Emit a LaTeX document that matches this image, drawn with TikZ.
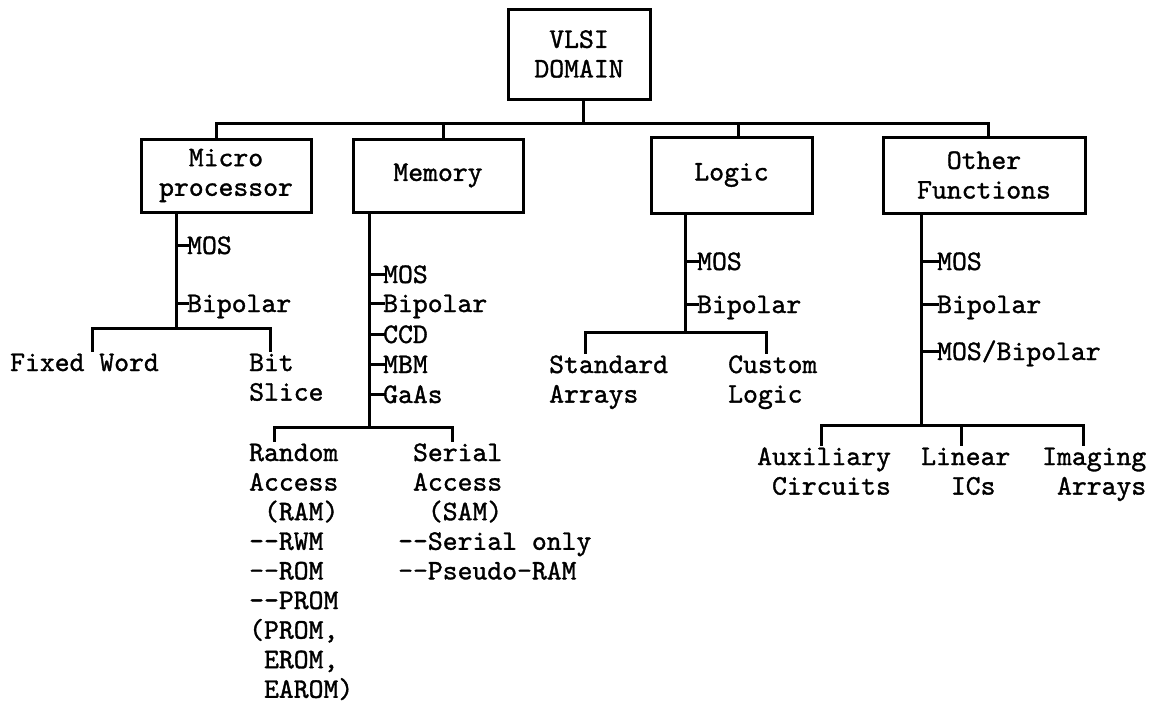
\documentclass[tikz,border=0pt]{standalone}
\usepackage{fontspec}
\setmonofont{lmmono10-regular.otf}[FakeBold=1.2]
\newcommand\txtblk[1]{\begin{tabular}[t]{@{}l@{}}#1\end{tabular}}
\newcommand\blnk{\phantom{0}}
\begin{document}
\begin{tikzpicture}[x=1pt,y=-1pt,
  every node/.style={font=\ttfamily\fontsize{28.3}{29.6}\selectfont},
  box/.style={draw,line width=3pt,inner sep=0pt,align=center},
  lbl/.style={inner sep=0pt,text height=17pt,text depth=0pt,anchor=base west},
  blk/.style={inner sep=0pt,anchor=base west},
  ln/.style={line width=3pt,line cap=rect}]
\useasboundingbox (0,0) rectangle (1153,704);
% boxes
\node[box,minimum width=142pt,minimum height=90pt] (root) at (579,54) {VLSI\\DOMAIN};
\node[box,minimum width=170pt,minimum height=73pt] (micro) at (226,175.5) {Micro\\processor};
\node[box,minimum width=170pt,minimum height=73pt] (memory) at (438,175.5) {Memory};
\node[box,minimum width=161pt,minimum height=76pt] (logic) at (731.5,175) {Logic};
\node[box,minimum width=202pt,minimum height=76pt] (other) at (984,175) {Other\\Functions};
% top bus
\coordinate (bus) at (583,123);
\coordinate (dmi) at (216,123);
\coordinate (dme) at (443,123);
\coordinate (dlo) at (738,123);
\coordinate (dot) at (988,123);
\draw[ln] (root.south -| bus) -- (bus);
\draw[ln] (dmi) -- (dot);
\draw[ln] (dmi) -- (dmi |- micro.north);
\draw[ln] (dme) -- (dme |- memory.north);
\draw[ln] (dlo) -- (dlo |- logic.north);
\draw[ln] (dot) -- (dot |- other.north);
% microprocessor branch
\coordinate (ms) at (176,328);
\draw[ln] (ms |- micro.south) -- (ms);
\node[lbl] (mimos) at (187,254) {MOS};
\node[lbl] (mibip) at (187,312) {Bipolar};
\draw[ln] (ms |- mimos.west) -- (mimos.west);
\draw[ln] (ms |- mibip.west) -- (mibip.west);
\node[blk] (fixed) at (10,371) {\txtblk{Fixed Word}};
\node[blk] (bit) at (249,371) {\txtblk{Bit\\Slice}};
\coordinate (mfw) at (92,328);
\coordinate (mbs) at (270,328);
\draw[ln] (mfw) -- (mbs);
\draw[ln] (mfw) -- (mfw |- fixed.north);
\draw[ln] (mbs) -- (mbs |- bit.north);
% memory branch
\coordinate (es) at (369,427);
\draw[ln] (es |- memory.south) -- (es);
\node[lbl] (emos) at (383,283) {MOS};
\node[lbl] (ebip) at (383,312) {Bipolar};
\node[lbl] (eccd) at (383,343) {CCD};
\node[lbl] (embm) at (383,373) {MBM};
\node[lbl] (egaa) at (383,403) {GaAs};
\foreach \n in {emos,ebip,eccd,embm,egaa}
  \draw[ln] (es |- \n.west) -- (\n.west);
\node[blk] (ram) at (249,461) {\txtblk{Random\\Access\\\blnk(RAM)\\-{}-RWM\\-{}-ROM\\-{}-PROM\\(PROM,\\\blnk EROM,\\\blnk EAROM)}};
\node[blk] (sam) at (398,461) {\txtblk{\blnk Serial\\\blnk Access\\\blnk\blnk(SAM)\\-{}-Serial only\\-{}-Pseudo-RAM}};
\coordinate (era) at (274,427);
\coordinate (esa) at (452,427);
\draw[ln] (era) -- (esa);
\draw[ln] (era) -- (era |- ram.north);
\draw[ln] (esa) -- (esa |- sam.north);
% logic branch
\coordinate (ls) at (685,332);
\draw[ln] (ls |- logic.south) -- (ls);
\node[lbl] (lmos) at (697,270) {MOS};
\node[lbl] (lbip) at (697,313) {Bipolar};
\draw[ln] (ls |- lmos.west) -- (lmos.west);
\draw[ln] (ls |- lbip.west) -- (lbip.west);
\node[blk] (std) at (549,373) {\txtblk{Standard\\Arrays}};
\node[blk] (cust) at (728,373) {\txtblk{Custom\\Logic}};
\coordinate (lsa) at (585,332);
\coordinate (lcl) at (766,332);
\draw[ln] (lsa) -- (lcl);
\draw[ln] (lsa) -- (lsa |- std.north);
\draw[ln] (lcl) -- (lcl |- cust.north);
% other functions branch
\coordinate (os) at (921,425);
\draw[ln] (os |- other.south) -- (os);
\node[lbl] (omos) at (937,270) {MOS};
\node[lbl] (obip) at (937,313) {Bipolar};
\node[lbl] (omb) at (937,360) {MOS/Bipolar};
\foreach \n in {omos,obip,omb}
  \draw[ln] (os |- \n.west) -- (\n.west);
\node[blk] (aux) at (757,465) {\txtblk{Auxiliary\\\blnk Circuits}};
\node[blk] (lin) at (921,465) {\txtblk{Linear\\\blnk\blnk ICs}};
\node[blk] (img) at (1042,465) {\txtblk{Imaging\\\blnk Arrays}};
\coordinate (oau) at (821,425);
\coordinate (oli) at (961,425);
\coordinate (oim) at (1083,425);
\draw[ln] (oau) -- (oim);
\draw[ln] (oau) -- (oau |- aux.north);
\draw[ln] (oli) -- (oli |- lin.north);
\draw[ln] (oim) -- (oim |- img.north);
\end{tikzpicture}
\end{document}
